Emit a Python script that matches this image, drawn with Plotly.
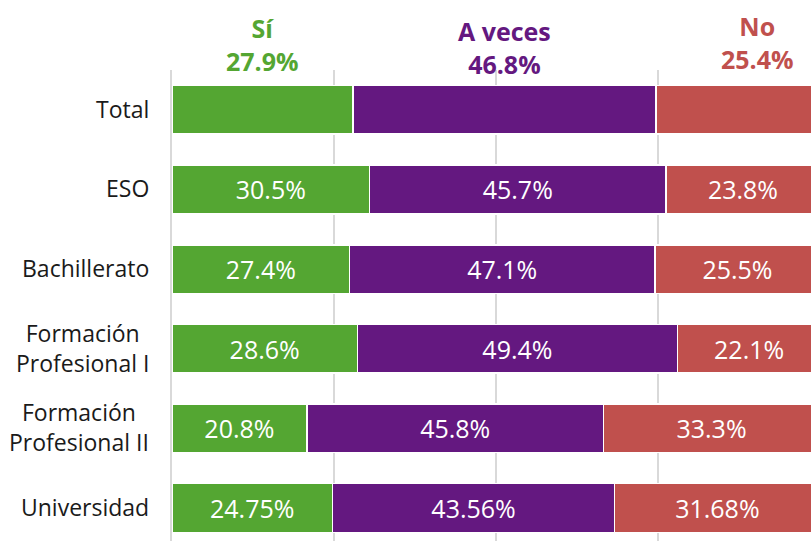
import plotly.graph_objects as go

categories = ["Total", "ESO", "Bachillerato", "Formación<br>Profesional I",
              "Formación<br>Profesional II", "Universidad"]
si = [27.9, 30.5, 27.4, 28.6, 20.8, 24.75]
a_veces = [46.8, 45.7, 47.1, 49.4, 45.8, 43.56]
no = [25.4, 23.8, 25.5, 22.1, 33.3, 31.68]
series_names = ["Sí", "A veces", "No"]
colors = ["#54A632", "#641880", "#C0504D"]

FONT = "Open Sans"
W, H = 811, 541
TOP = 69.65
UNIT = 79.7
y_bottom = -0.5 + (H - TOP) / UNIT

ypos = list(range(len(categories)))

fig = go.Figure()
for name, vals, col in zip(series_names, [si, a_veces, no], colors):
    labels = ["" if i == 0 else f"{v}%" for i, v in enumerate(vals)]
    fig.add_trace(go.Bar(
        y=ypos, x=vals, orientation="h", name=name,
        marker=dict(color=col, line=dict(color="white", width=1.5)),
        text=labels, textposition="inside", insidetextanchor="middle",
        textangle=0, constraintext="none",
        textfont=dict(color="white", size=25, family=FONT),
        width=0.61, hoverinfo="skip",
    ))

# category labels (centered multi-line, right edge near axis)
for i, c in enumerate(categories):
    fig.add_annotation(x=0, xref="paper", y=i, yref="y", text=c,
                       xanchor="right", align="center", xshift=-21, yshift=1,
                       showarrow=False,
                       font=dict(size=23, color="#1a1a1a", family=FONT))

# headers above the Total bar
def py_to_paper(py):
    return (H - py) / (H - TOP)

tot = [si[0], a_veces[0], no[0]]
centers = [tot[0] / 2, tot[0] + tot[1] / 2, 90.4]
block_py = [44, 47.5, 42]
for name, val, cx, col, bp in zip(series_names, tot, centers, colors, block_py):
    fig.add_annotation(x=cx, xref="x", y=py_to_paper(bp), yref="paper",
                       text=f"<b>{name}</b><br><b>{val}%</b>", showarrow=False,
                       xanchor="center", yanchor="middle", align="center",
                       font=dict(size=25, color=col, family=FONT))

fig.update_layout(
    width=W, height=H, barmode="stack", bargap=0.39,
    margin=dict(l=172, r=0, t=TOP, b=0),
    plot_bgcolor="white", paper_bgcolor="white", showlegend=False,
    font=dict(family=FONT),
    xaxis=dict(range=[0, 98.6], tickvals=[25, 50, 75], showticklabels=False,
               showgrid=True, gridcolor="#d9d9d9", gridwidth=2,
               zeroline=False, fixedrange=True),
    yaxis=dict(range=[y_bottom, -0.5], showticklabels=False, showgrid=False,
               zeroline=False, showline=True, linecolor="#d9d9d9", linewidth=2,
               fixedrange=True),
)

fig.write_html("out.html", config={"displayModeBar": False},
               post_script="document.body.style.margin='0';document.body.style.overflow='hidden';")
